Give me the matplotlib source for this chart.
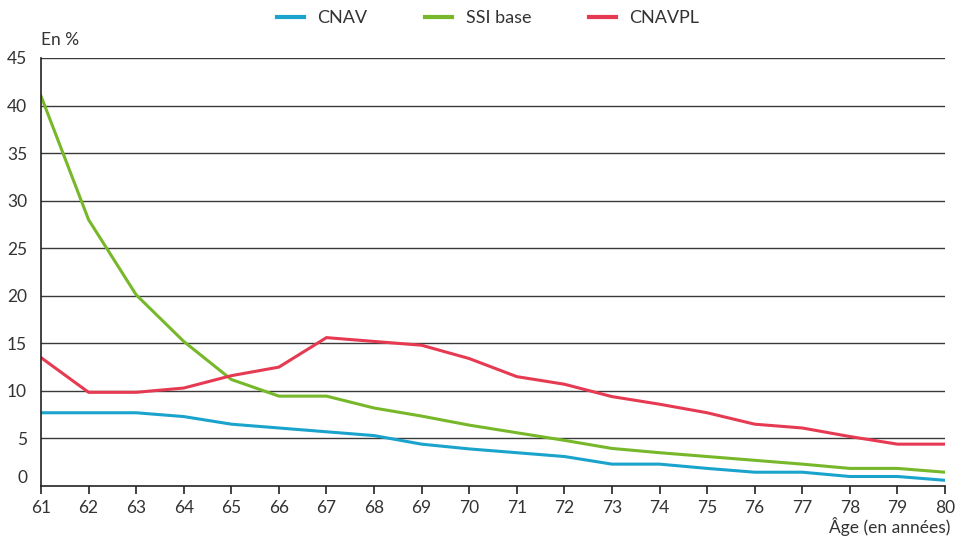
import matplotlib
matplotlib.use("Agg")
import matplotlib.pyplot as plt

ages = list(range(61, 81))
cnav = [7.7, 7.7, 7.7, 7.3, 6.5, 6.1, 5.7, 5.3, 4.4, 3.9, 3.5, 3.1, 2.3, 2.3, 1.85, 1.45, 1.45, 1.0, 1.0, 0.6]
ssi = [41.0, 28.0, 20.1, 15.2, 11.2, 9.45, 9.45, 8.2, 7.35, 6.4, 5.6, 4.8, 3.95, 3.5, 3.1, 2.7, 2.3, 1.85, 1.85, 1.45]
cnavpl = [13.5, 9.85, 9.85, 10.3, 11.6, 12.5, 15.6, 15.2, 14.8, 13.4, 11.5, 10.7, 9.4, 8.6, 7.7, 6.5, 6.1, 5.2, 4.4, 4.4]
series_names = ["CNAV", "SSI base", "CNAVPL"]
colors = ["#1aa3cc", "#77b82a", "#e63a52"]
yticks = [0, 5, 10, 15, 20, 25, 30, 35, 40, 45]

plt.rcParams['font.family'] = ['Lato', 'DejaVu Sans']
txt = "#333333"

fig = plt.figure(figsize=(9.56, 5.38), dpi=100)
ax = fig.add_axes([41/956, 1-486/538, (945-41)/956, (486-58)/538])

for vals, name, c in zip([cnav, ssi, cnavpl], series_names, colors):
    ax.plot(ages, vals, color=c, lw=2.2, label=name, solid_joinstyle='miter')

ax.set_xlim(61, 80)
ax.set_ylim(0, 45)
ax.set_yticks(yticks)
ax.set_xticks(ages)
for y in yticks[1:]:
    ax.axhline(y, color="#3a3a3a", lw=1.0, zorder=0)
for s in ["top", "right"]:
    ax.spines[s].set_visible(False)
ax.spines["left"].set_color("#222222")
ax.spines["bottom"].set_color("#222222")
ax.spines["left"].set_linewidth(1.2)
ax.spines["bottom"].set_linewidth(1.2)
ax.tick_params(axis="y", length=0, pad=10, labelsize=12.5, labelcolor=txt)
ax.tick_params(axis="x", length=6, width=1.2, color="#222222", pad=4, labelsize=12.5, labelcolor=txt)
ylabels = ax.get_yticklabels()
ylabels[0].set_verticalalignment("bottom")

fig.text(41/956, 1-40/538, "En %", fontsize=12.5, color=txt, ha="left", va="center")
fig.text(950/956, 1-527/538, "Âge (en années)", fontsize=12.5, color=txt, ha="right", va="center")

leg = fig.legend(loc="center", bbox_to_anchor=(488/956, 1-18/538), ncol=3, frameon=False,
                 fontsize=13, handlelength=1.5, columnspacing=3.2, handletextpad=0.75)
for t in leg.get_texts():
    t.set_color(txt)
for h in leg.get_lines():
    h.set_linewidth(3)

fig.savefig("out.png", dpi=100)
